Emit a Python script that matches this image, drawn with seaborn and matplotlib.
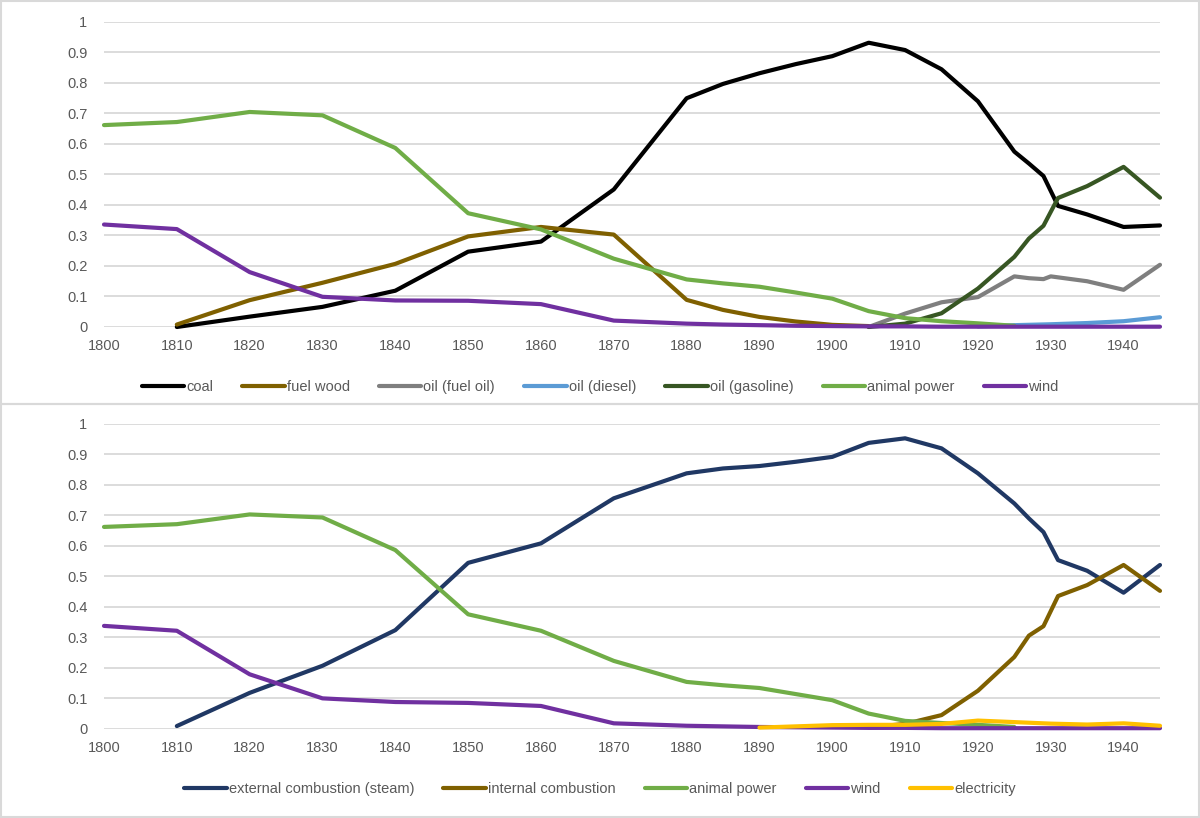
import numpy as np
import pandas as pd
import matplotlib
matplotlib.use("Agg")
import matplotlib.pyplot as plt
import seaborn as sns
from matplotlib.patches import Rectangle

sns.set_theme(style="white")
plt.rcParams['font.family'] = ['Liberation Sans', 'DejaVu Sans']

N = None
years = [1800, 1810, 1820, 1830, 1840, 1850, 1860, 1870, 1880, 1885, 1890, 1895,
         1900, 1905, 1910, 1915, 1920, 1925, 1927, 1929, 1930, 1931, 1935, 1940, 1945]

# ---- top panel (energy sources) ----
coal = [N, 0.0, 0.034, 0.066, 0.119, 0.247, 0.280, 0.451, 0.750, 0.797, 0.832, 0.862,
        0.888, 0.932, 0.908, 0.845, 0.740, 0.575, 0.536, 0.495, N, 0.397, 0.369, 0.328, 0.333]
fuel_wood = [N, 0.008, 0.088, 0.145, 0.207, 0.297, 0.328, 0.303, 0.089, 0.056, 0.033, 0.018,
             0.007, 0.003, N, N, N, N, N, N, N, N, N, N, N]
fuel_oil = [N, N, N, N, N, N, N, N, N, N, N, N,
            N, 0.0, 0.044, 0.081, 0.098, 0.166, 0.160, 0.157, 0.166, N, 0.150, 0.122, 0.204]
diesel = [N, N, N, N, N, N, N, N, N, N, N, N,
          N, N, N, N, 0.002, 0.006, N, N, 0.009, N, 0.013, 0.019, 0.032]
gasoline = [N, N, N, N, N, N, N, N, N, N, N, N,
            N, 0.0, 0.011, 0.045, 0.126, 0.230, 0.290, 0.332, N, 0.423, 0.462, 0.525, 0.424]
animal_top = [0.662, 0.672, 0.705, 0.694, 0.587, 0.373, 0.320, 0.224, 0.156, 0.143, 0.132, 0.113,
              0.093, 0.052, 0.029, 0.019, 0.012, 0.004, N, N, N, N, N, N, N]
wind_top = [0.336, 0.321, 0.180, 0.099, 0.087, 0.086, 0.075, 0.021, 0.011, 0.008, 0.006, 0.004,
            0.003, 0.002, 0.002, 0.001, 0.001, 0.001, N, N, 0.001, N, 0.001, 0.001, 0.001]

# ---- bottom panel (power technologies) ----
steam = [N, 0.008, 0.117, 0.206, 0.323, 0.544, 0.608, 0.756, 0.838, 0.854, 0.862, 0.876,
         0.892, 0.938, 0.953, 0.920, 0.838, 0.739, 0.690, 0.645, N, 0.553, 0.518, 0.446, 0.537]
internal = [N, N, N, N, N, N, N, N, N, N, N, N,
            N, 0.004, 0.015, 0.044, 0.124, 0.235, 0.305, 0.336, N, 0.435, 0.471, 0.537, 0.452]
animal_bot = [0.662, 0.671, 0.703, 0.693, 0.586, 0.375, 0.321, 0.222, 0.153, 0.142, 0.133, 0.113,
              0.093, 0.049, 0.025, 0.018, 0.012, 0.005, N, N, N, N, N, N, N]
wind_bot = [0.337, 0.321, 0.178, 0.099, 0.087, 0.084, 0.074, 0.017, 0.009, 0.007, 0.005, 0.004,
            0.003, 0.002, 0.002, 0.001, 0.001, 0.001, N, N, 0.001, N, 0.001, 0.001, 0.001]
electricity = [N, N, N, N, N, N, N, N, N, N, 0.003, 0.007,
               0.011, 0.012, 0.012, 0.015, 0.026, 0.021, N, N, 0.016, N, 0.013, 0.017, 0.009]

top_series = [("coal", coal, "#000000"),
              ("fuel wood", fuel_wood, "#7F6000"),
              ("oil (fuel oil)", fuel_oil, "#7F7F7F"),
              ("oil (diesel)", diesel, "#5B9BD5"),
              ("oil (gasoline)", gasoline, "#375623"),
              ("animal power", animal_top, "#70AD47"),
              ("wind", wind_top, "#7030A0")]
bot_series = [("external combustion (steam)", steam, "#203864"),
              ("internal combustion", internal, "#7F6000"),
              ("animal power", animal_bot, "#70AD47"),
              ("wind", wind_bot, "#7030A0"),
              ("electricity", electricity, "#FFC000")]

x_ticks = list(range(1800, 1941, 10))
y_ticks = [0, 0.1, 0.2, 0.3, 0.4, 0.5, 0.6, 0.7, 0.8, 0.9, 1]
y_labels = ["0", "0.1", "0.2", "0.3", "0.4", "0.5", "0.6", "0.7", "0.8", "0.9", "1"]


def long_df(series):
    rows = []
    for name, vals, _ in series:
        for yr, v in zip(years, vals):
            if v is not None:
                rows.append({"year": yr, "value": v, "series": name})
    return pd.DataFrame(rows)


W, H = 1200, 818
fig = plt.figure(figsize=(W / 100, H / 100), dpi=100)
txt = "#595959"
grid_c = "#D9D9D9"


def px_axes(left, top, right, bottom):
    return fig.add_axes([left / W, 1 - bottom / H, (right - left) / W, (bottom - top) / H])


def style(ax, series, legend_y):
    df = long_df(series)
    names = [s[0] for s in series]
    pal = {s[0]: s[2] for s in series}
    sns.lineplot(data=df, x="year", y="value", hue="series", hue_order=names,
                 palette=pal, estimator=None, sort=True, linewidth=3.0, ax=ax,
                 solid_capstyle="round", solid_joinstyle="round", legend=False)
    for ln in ax.lines:
        ln.set_clip_on(False)
    ax.set_xlim(1800, 1945)
    ax.set_ylim(0, 1)
    ax.set_xticks(x_ticks)
    ax.set_xticklabels([str(t) for t in x_ticks])
    ax.set_yticks(y_ticks)
    ax.set_yticklabels(y_labels)
    ax.set_xlabel("")
    ax.set_ylabel("")
    ax.grid(axis="y", color=grid_c, linewidth=1.3)
    ax.grid(axis="x", visible=False)
    ax.set_axisbelow(True)
    for sp in ax.spines.values():
        sp.set_visible(False)
    ax.tick_params(axis="x", length=0, pad=9, labelsize=10.5, labelcolor=txt)
    ax.tick_params(axis="y", length=0, pad=12, labelsize=10.5, labelcolor=txt)
    handles = [plt.Line2D([0], [0], color=c, linewidth=3.0, solid_capstyle="round") for _, _, c in series]
    fig.legend(handles, names, loc="center", bbox_to_anchor=(0.5, 1 - legend_y / H),
               ncol=len(series), frameon=False, fontsize=10.5, labelcolor=txt,
               handlelength=2.9, handletextpad=0.15, columnspacing=2.0)


ax1 = px_axes(104, 22, 1160, 327)
style(ax1, top_series, 387)
ax2 = px_axes(104, 424, 1160, 728.5)
style(ax2, bot_series, 789)

fig.patches.append(Rectangle((1 / W, 1 - 403.5 / H), 1197.5 / W, 402.5 / H,
                             transform=fig.transFigure, fill=False,
                             edgecolor=grid_c, linewidth=1.5))
fig.patches.append(Rectangle((1 / W, 1 / H), 1197.5 / W, 1 - 405.5 / H,
                             transform=fig.transFigure, fill=False,
                             edgecolor=grid_c, linewidth=1.5))

fig.savefig("out.png", dpi=100, facecolor="white")
